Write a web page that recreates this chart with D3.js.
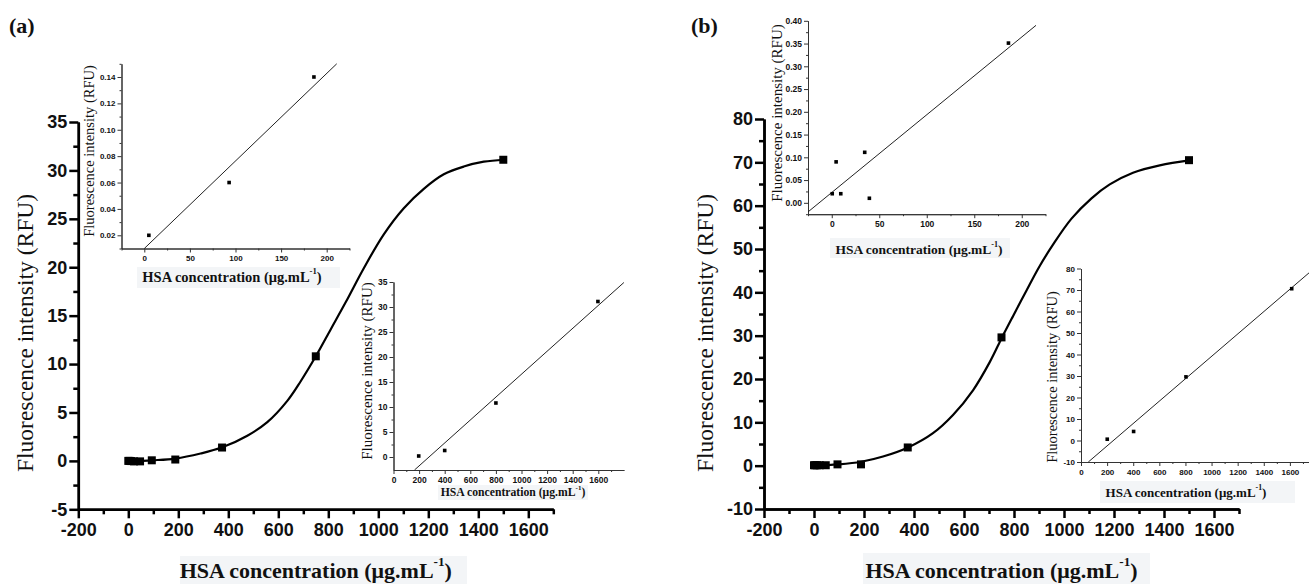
<!DOCTYPE html>
<html><head><meta charset="utf-8">
<script src="https://cdn.jsdelivr.net/npm/d3@7"></script>
<style>
body{margin:0;background:#fff;}
svg{display:block;}
</style></head><body>
<svg width="1309" height="584"></svg>
<script>
// ---- data ----
// panel (a), main sigmoid
var aX = [0, 5, 12, 23, 47, 94, 188, 375, 750, 1500];
var aY = [0, 0, -0.02, -0.05, -0.05, 0.06, 0.14, 1.38, 10.8, 31.1];
var aFitX = [0, 96, 189, 289, 376, 476, 556, 636, 689, 750, 810, 870, 942, 1022, 1102, 1182, 1262, 1342, 1422, 1504];
var aFitY = [-0.05, 0.06, 0.24, 0.76, 1.4, 2.6, 4.0, 6.2, 8.2, 10.8, 13.6, 16.4, 19.9, 23.4, 26.1, 28.1, 29.6, 30.4, 30.9, 31.1];
// panel (a), low-range inset
var a1X = [5, 93, 186];
var a1Y = [0.020, 0.060, 0.140];
var a1LineX = [0, 211];
var a1LineY = [0.01, 0.15];
// panel (a), high-range inset
var a2X = [197, 400, 800, 1597];
var a2Y = [0.2, 1.3, 10.8, 31.1];
var a2LineX = [164, 1800];
var a2LineY = [-2.6, 34.9];

// panel (b), main sigmoid
var bX = [0, 5, 12, 23, 47, 94, 188, 375, 750, 1500];
var bY = [0.1, 0.1, 0.1, 0.1, 0.1, 0.3, 0.3, 4.2, 29.6, 70.5];
var bFitX = [0, 96, 189, 276, 376, 476, 556, 636, 703, 752, 796, 849, 900, 956, 1030, 1110, 1183, 1276, 1383, 1507];
var bFitY = [0, 0.3, 0.9, 2.1, 4.2, 7.5, 11.7, 17.4, 23.9, 29.6, 34.5, 40.3, 45.8, 51.0, 57.0, 61.7, 64.9, 67.6, 69.3, 70.5];
// panel (b), low-range inset
var b1X = [0.5, 4.6, 9.5, 34.7, 39.6, 186];
var b1Y = [0.020, 0.090, 0.020, 0.111, 0.010, 0.351];
var b1LineX = [-25, 215];
var b1LineY = [-0.02, 0.39];
// panel (b), high-range inset
var b2X = [201, 403, 804, 1614];
var b2Y = [0.6, 4.2, 29.6, 70.6];
var b2LineX = [56, 1747];
var b2LineY = [-10, 78];

// tick labels
var mainXTicks = d3.range(-200, 1601, 200);
var aYTicks = d3.range(-5, 36, 5);
var bYTicks = d3.range(-10, 81, 10);
var a1XTicks = [0, 50, 100, 150, 200];
var a1YTicks = [0.02, 0.04, 0.06, 0.08, 0.10, 0.12, 0.14];
var a2XTicks = d3.range(0, 1601, 200);
var a2YTicks = d3.range(0, 36, 5);
var b1XTicks = [0, 50, 100, 150, 200];
var b1YTicks = [0, 0.05, 0.10, 0.15, 0.20, 0.25, 0.30, 0.35, 0.40];
var b2XTicks = d3.range(0, 1601, 200);
var b2YTicks = d3.range(-10, 81, 10);

var yTitle = "Fluorescence intensity (RFU)";

var SERIF = '"Liberation Serif","DejaVu Serif",serif';
var SANS = '"Liberation Sans",Arial,sans-serif';

var svg = d3.select("svg");
var back = svg.append("g");   // faint boxes behind pasted titles

function zip(xs, ys){ return xs.map((d,i)=>[d, ys[i]]); }

function box(b){
    back.append("rect").attr("x", b[0]).attr("y", b[1])
        .attr("width", b[2]).attr("height", b[3]).attr("fill","#f3f5f7");
}

// x title with the -1 superscript
function xTitle(g, cx, base, size){
    var t = g.append("text").attr("x", cx).attr("y", base)
        .attr("text-anchor","middle").attr("font-family", SERIF)
        .attr("font-weight","bold").attr("font-size", size).attr("fill","#111");
    t.append("tspan").text("HSA concentration (\u03bcg.mL");
    t.append("tspan").attr("dy", -size*0.55).attr("font-size", size*0.6).text("-1");
    t.append("tspan").attr("dy", size*0.55).text(")");
}

function yTitleAt(g, cx, cy, size){
    g.append("text").attr("transform","translate("+cx+","+cy+") rotate(-90)")
        .attr("dy","0.35em").attr("text-anchor","middle")
        .attr("font-family", SERIF).attr("font-size", size)
        .attr("fill","#111").text(yTitle);
}

function styleAxis(sel, w, fs, col){
    sel.selectAll(".domain").attr("stroke", col).attr("stroke-width", w);
    sel.selectAll(".tick line").attr("stroke", col).attr("stroke-width", w);
    sel.selectAll("text").attr("font-family", SANS).attr("font-weight","bold")
        .attr("font-size", fs).attr("fill","#111");
}

function mainPanel(o){
    box(o.titleBox);
    var g = svg.append("g");
    var x = d3.scaleLinear().domain(o.xDomain).range([o.left, o.right]);
    var y = d3.scaleLinear().domain(o.yDomain).range([o.bottom, o.top]);

    var xm = g.append("g").attr("transform","translate(0,"+o.bottom+")")
        .call(d3.axisBottom(x).tickValues(d3.range(-100, 1701, 200)).tickSize(5).tickSizeOuter(0).tickFormat(""));
    styleAxis(xm, 2.5, 18, "#000");
    var xa = g.append("g").attr("transform","translate(0,"+o.bottom+")")
        .call(d3.axisBottom(x).tickValues(mainXTicks).tickSize(9).tickPadding(5).tickSizeOuter(0).tickFormat(d=>String(d)));
    styleAxis(xa, 2.5, 18, "#000");

    var ym = g.append("g").attr("transform","translate("+o.left+",0)")
        .call(d3.axisLeft(y).tickValues(o.yMinor).tickSize(5).tickSizeOuter(0).tickFormat(""));
    styleAxis(ym, 2.5, 18, "#000");
    var ya = g.append("g").attr("transform","translate("+o.left+",0)")
        .call(d3.axisLeft(y).tickValues(o.yTicks).tickSize(9).tickPadding(2).tickSizeOuter(0).tickFormat(d=>String(d)));
    styleAxis(ya, 2.5, 18, "#000");

    var line = d3.line().x(d=>x(d[0])).y(d=>y(d[1])).curve(d3.curveCatmullRom.alpha(0.5));
    g.append("path").datum(o.fit).attr("d", line)
        .attr("fill","none").attr("stroke","#000").attr("stroke-width",2.2);

    g.selectAll("rect.pt").data(o.pts).enter().append("rect").attr("class","pt")
        .attr("x", d=>x(d[0])-4).attr("y", d=>y(d[1])-4)
        .attr("width",8).attr("height",8).attr("fill","#000");

    xTitle(g, (o.left+o.right)/2, 578, 22);
    yTitleAt(g, o.yTitleX, 333, 23.5);
    g.append("text").attr("x", o.labelX).attr("y", 33).attr("font-family", SERIF)
        .attr("font-weight","bold").attr("font-size",22).attr("fill","#111").text(o.label);
}

function inset(o){
    box(o.titleBox);
    var g = svg.append("g");
    var x = d3.scaleLinear().domain(o.xDomain).range([o.left, o.right]);
    var y = d3.scaleLinear().domain(o.yDomain).range([o.bottom, o.top]);
    var col = "#333";

    var xm = g.append("g").attr("transform","translate(0,"+o.bottom+")")
        .call(d3.axisBottom(x).tickValues(o.xMinor).tickSize(2).tickSizeOuter(0).tickFormat(""));
    styleAxis(xm, 1, o.fs, col);
    var xa = g.append("g").attr("transform","translate(0,"+o.bottom+")")
        .call(d3.axisBottom(x).tickValues(o.xTicks).tickSize(4).tickPadding(3).tickSizeOuter(0).tickFormat(o.xFmt));
    styleAxis(xa, 1, o.fs, col);
    var ym = g.append("g").attr("transform","translate("+o.left+",0)")
        .call(d3.axisLeft(y).tickValues(o.yMinor).tickSize(2).tickSizeOuter(0).tickFormat(""));
    styleAxis(ym, 1, o.fs, col);
    var ya = g.append("g").attr("transform","translate("+o.left+",0)")
        .call(d3.axisLeft(y).tickValues(o.yTicks).tickSize(4).tickPadding(2).tickSizeOuter(0).tickFormat(o.yFmt));
    styleAxis(ya, 1, o.fs, col);

    g.append("line").attr("x1", x(o.line[0][0])).attr("y1", y(o.line[0][1]))
        .attr("x2", x(o.line[1][0])).attr("y2", y(o.line[1][1]))
        .attr("stroke","#222").attr("stroke-width",1);

    g.selectAll("rect.pt").data(o.pts).enter().append("rect").attr("class","pt")
        .attr("x", d=>x(d[0])-1.8).attr("y", d=>y(d[1])-1.8)
        .attr("width",3.6).attr("height",3.6).attr("fill","#000");

    xTitle(g, o.xt[0], o.xt[1], o.xt[2]);
    yTitleAt(g, o.yt[0], o.yt[1], o.yt[2]);
}

mainPanel({
    xDomain:[-200,1700], left:78.3, right:553.3,
    yDomain:[-5,35], bottom:509.3, top:122,
    yTicks:aYTicks, yMinor:d3.range(-2.5, 35, 5),
    pts:zip(aX,aY), fit:zip(aFitX,aFitY),
    titleBox:[180,556,287,28], yTitleX:25, label:"(a)", labelX:9
});
mainPanel({
    xDomain:[-200,1700], left:764, right:1239,
    yDomain:[-10,80], bottom:509, top:119,
    yTicks:bYTicks, yMinor:d3.range(-5, 80, 10),
    pts:zip(bX,bY), fit:zip(bFitX,bFitY),
    titleBox:[863,553,287,31], yTitleX:705, label:"(b)", labelX:691
});

inset({
    xDomain:[-25,225], left:121.5, right:349.5,
    yDomain:[0.01,0.15], bottom:248.5, top:63.8,
    xTicks:a1XTicks, xMinor:d3.range(-25,226,50),
    yTicks:a1YTicks, yMinor:[0.01,0.03,0.05,0.07,0.09,0.11,0.13,0.15],
    xFmt:d=>String(d), yFmt:d3.format(".2f"), fs:8,
    pts:zip(a1X,a1Y), line:zip(a1LineX,a1LineY),
    titleBox:[137,267,203,21], xt:[232,282,14.5], yt:[89,151,14.5]
});
inset({
    xDomain:[0,1800], left:393.5, right:623.9,
    yDomain:[-2.6,35], bottom:470, top:282,
    xTicks:a2XTicks, xMinor:d3.range(100,1800,200),
    yTicks:a2YTicks, yMinor:d3.range(2.5,35,5),
    xFmt:d=>String(d), yFmt:d=>String(d), fs:8.5,
    pts:zip(a2X,a2Y), line:zip(a2LineX,a2LineY),
    titleBox:[438,485,150,15], xt:[513,496,11.7], yt:[367,371,15]
});
inset({
    xDomain:[-25,225], left:808, right:1045.5,
    yDomain:[-0.025,0.40], bottom:214.2, top:20.8,
    xTicks:b1XTicks, xMinor:d3.range(-25,226,50),
    yTicks:b1YTicks, yMinor:d3.range(-0.025,0.4,0.05),
    xFmt:d=>String(d), yFmt:d3.format(".2f"), fs:8.5,
    pts:zip(b1X,b1Y), line:zip(b1LineX,b1LineY),
    titleBox:[830,238,180,20], xt:[919,254,13.5], yt:[777,113,15]
});
inset({
    xDomain:[0,1800], left:1081, right:1316,
    yDomain:[-10,80], bottom:462, top:268.5,
    xTicks:b2XTicks, xMinor:d3.range(100,1800,200),
    yTicks:b2YTicks, yMinor:d3.range(-5,80,10),
    xFmt:d=>String(d), yFmt:d=>String(d), fs:8,
    pts:zip(b2X,b2Y), line:zip(b2LineX,b2LineY),
    titleBox:[1100,481,195,22], xt:[1186,497,13], yt:[1052,377,14.5]
});
</script>
</body></html>
